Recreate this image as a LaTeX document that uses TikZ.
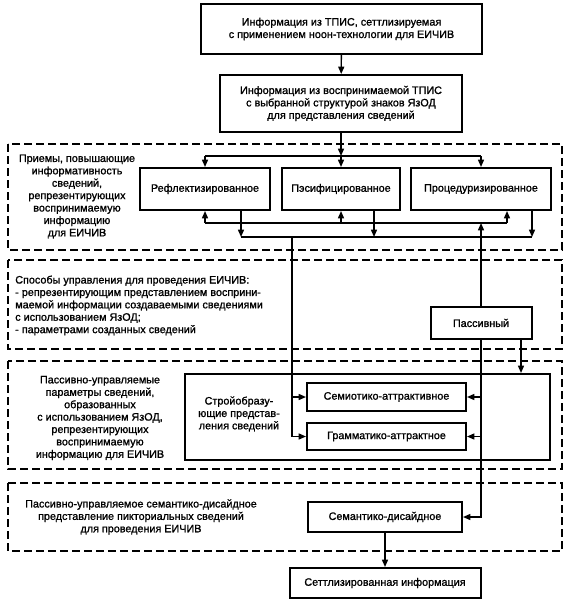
\documentclass[tikz,border=0pt]{standalone}
\usepackage{fontspec}
\setmainfont{Liberation Sans}[UprightFeatures={FakeBold=1.2}]
\usetikzlibrary{arrows.meta}
\begin{document}
\begin{tikzpicture}[x=0.75pt,y=-0.75pt,
  every node/.style={font=\fontsize{8.1}{9.3}\selectfont},
  box/.style={draw,line width=1.5pt,inner sep=0pt,align=center,fill=white},
  txt/.style={inner sep=0pt,align=center},
  dashbox/.style={draw,line width=0.9pt,dash pattern=on 6pt off 3pt},
  conn/.style={line width=1.05pt},
  arr/.style={conn,-{Triangle[length=5.5pt,width=4.5pt]}}]
\useasboundingbox (0,0) rectangle (571,606);
% dashed groups
\draw[dashbox] (8,144) rectangle (562,250);
\draw[dashbox] (8,260) rectangle (562,349);
\draw[dashbox] (8,361) rectangle (562,469);
\draw[dashbox] (8,483) rectangle (562,551);
% boxes
\node[box,minimum width=281*0.75pt,minimum height=50*0.75pt] (top) at (341.5,29) {Информация из ТПИС, сеттлизируемая\\с применением ноон-технологии для ЕИЧИВ};
\node[box,minimum width=242*0.75pt,minimum height=57*0.75pt] (box2) at (341,103.5) {Информация из воспринимаемой ТПИС\\с выбранной структурой знаков ЯзОД\\для представления сведений};
\node[box,minimum width=130*0.75pt,minimum height=42*0.75pt] (refl) at (205,189) {Рефлектизированное};
\node[box,minimum width=118*0.75pt,minimum height=42*0.75pt] (pesif) at (341,189) {Пэсифицированное};
\node[box,minimum width=140*0.75pt,minimum height=42*0.75pt] (proc) at (481,189) {Процедуризированное};
\node[box,minimum width=101*0.75pt,minimum height=32*0.75pt] (passive) at (481,323) {Пассивный};
\node[draw,line width=1.5pt,inner sep=0pt,minimum width=365*0.75pt,minimum height=86*0.75pt] (big) at (367.5,417) {};
\node[box,minimum width=159*0.75pt,minimum height=28*0.75pt] (semio) at (386.5,397) {Семиотико-аттрактивное};
\node[box,minimum width=159*0.75pt,minimum height=27*0.75pt] (gramm) at (386.5,436.5) {Грамматико-аттрактное};
\node[box,minimum width=154*0.75pt,minimum height=30*0.75pt] (semant) at (385,517) {Семантико-дисайдное};
\node[box,minimum width=191*0.75pt,minimum height=30*0.75pt] (settl) at (385,583) {Сеттлизированная информация};
% texts
\node[txt] (t1) at (77,196.5) {Приемы, повышающие\\информативность\\сведений,\\репрезентирующих\\воспринимаемую\\информацию\\для ЕИЧИВ};
\node[txt,align=left,anchor=west] (t2) at (15,305.5) {Способы управления для проведения ЕИЧИВ:\\- репрезентирующим представлением восприни-\\маемой информации создаваемыми сведениями\\с использованием ЯзОД;\\- параметрами созданных сведений};
\node[txt] (t3) at (100,418) {Пассивно-управляемые\\параметры сведений,\\образованных\\с использованием ЯзОД,\\репрезентирующих\\воспринимаемую\\информацию для ЕИЧИВ};
\node[txt] (t4) at (239,414) {Стройобразу-\\ющие представ-\\ления сведений};
\node[txt] (t5) at (141,517) {Пассивно-управляемое семантико-дисайдное\\представление пикториальных сведений\\для проведения ЕИЧИВ};
% coordinates
\coordinate (bt) at (341,156);
\coordinate (uL) at (205,223);
\coordinate (uR) at (507,223);
\coordinate (lA) at (241,237);
\coordinate (lB) at (374,237);
\coordinate (lC) at (532,237);
\coordinate (vv) at (292,237);
\coordinate (pk) at (521,0);
% connectors
\draw[arr] (top) -- (box2);
\draw[arr] (box2) -- (bt);
\draw[conn] (refl.north |- bt) -- (proc.north |- bt);
\draw[arr] (refl.north |- bt) -- (refl.north);
\draw[arr] (bt) -- (pesif.north);
\draw[arr] (proc.north |- bt) -- (proc.north);
\draw[conn] (uL) -- (uR);
\draw[arr] (uL) -- (uL |- refl.south);
\draw[arr] (pesif.south |- uL) -- (pesif.south);
\draw[arr] (uR) -- (uR |- proc.south);
\draw[conn] (lA) -- (lC);
\draw[arr] (lA |- refl.south) -- (lA);
\draw[arr] (lB |- pesif.south) -- (lB);
\draw[arr] (lC |- proc.south) -- (lC);
\draw[arr] (vv) |- (gramm.west);
\draw[arr] (vv |- semio.west) -- (semio.west);
\draw[arr] (passive.north) -- (passive.north |- uL);
\draw[arr] (passive.south) |- (semant.east);
\draw[arr] (passive.south |- semio.east) -- (semio.east);
\draw[arr] (passive.south |- gramm.east) -- (gramm.east);
\draw[arr] (passive.south -| pk) -- (big.north -| pk);
\draw[arr] (semant) -- (settl);
\end{tikzpicture}
\end{document}
